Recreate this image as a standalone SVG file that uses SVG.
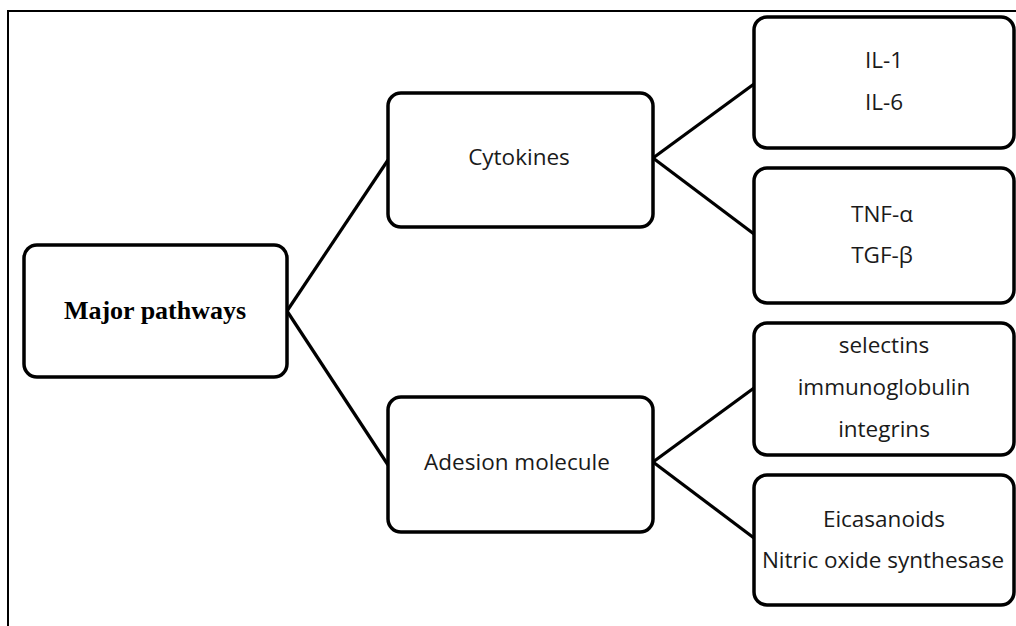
<svg xmlns="http://www.w3.org/2000/svg" width="1016" height="626" viewBox="0 0 1016 626">
  <style>
    .box { fill: #ffffff; stroke: #000000; stroke-width: 3.5; }
    .link { stroke: #000000; stroke-width: 3.2; fill: none; }
    .lbl { font-family: "Open Sans", "Liberation Sans", sans-serif; font-size: 22.5px; fill: #1a1a1a; text-anchor: middle; }
    .root { font-family: "Liberation Serif", serif; font-weight: bold; font-size: 26px; fill: #000000; text-anchor: middle; }
  </style>
  <rect width="1016" height="626" fill="#ffffff"/>
  <!-- outer frame -->
  <rect x="8" y="11" width="1030" height="640" fill="none" stroke="#000000" stroke-width="2"/>

  <g id="connectors">
    <line class="link" x1="287" y1="311" x2="388" y2="160"/>
    <line class="link" x1="287" y1="311" x2="388" y2="465"/>
    <line class="link" x1="653" y1="158" x2="754" y2="84"/>
    <line class="link" x1="653" y1="158" x2="754" y2="234"/>
    <line class="link" x1="653" y1="462" x2="754" y2="388"/>
    <line class="link" x1="653" y1="462" x2="754" y2="538"/>
  </g>

  <g id="major-pathways">
    <rect class="box" x="24" y="245" width="263" height="132" rx="13"/>
    <text class="root" x="155" y="319">Major pathways</text>
  </g>

  <g id="cytokines">
    <rect class="box" x="388" y="93" width="265" height="134" rx="13"/>
    <text class="lbl" x="519" y="165">Cytokines</text>
  </g>

  <g id="adhesion-molecule">
    <rect class="box" x="388" y="397" width="265" height="135" rx="13"/>
    <text class="lbl" x="517" y="470">Adesion molecule</text>
  </g>

  <g id="interleukins">
    <rect class="box" x="754" y="17" width="260" height="131" rx="13"/>
    <text class="lbl" x="884" y="68">IL-1</text>
    <text class="lbl" x="884" y="110">IL-6</text>
  </g>

  <g id="tnf-tgf">
    <rect class="box" x="754" y="168" width="260" height="135" rx="13"/>
    <text class="lbl" x="882" y="222">TNF-α</text>
    <text class="lbl" x="882" y="263">TGF-β</text>
  </g>

  <g id="adhesion-types">
    <rect class="box" x="754" y="323" width="260" height="132" rx="13"/>
    <text class="lbl" x="884" y="353">selectins</text>
    <text class="lbl" x="884" y="395">immunoglobulin</text>
    <text class="lbl" x="884" y="437">integrins</text>
  </g>

  <g id="mediators">
    <rect class="box" x="754" y="475" width="260" height="130" rx="13"/>
    <text class="lbl" x="884" y="527">Eicasanoids</text>
    <text class="lbl" x="883" y="568">Nitric oxide synthesase</text>
  </g>
</svg>
